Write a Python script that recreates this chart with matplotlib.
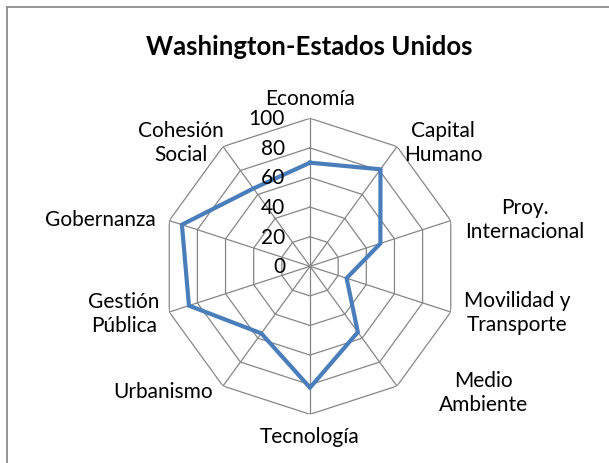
import numpy as np
import matplotlib
matplotlib.use("Agg")
import matplotlib.pyplot as plt
from matplotlib.lines import Line2D

categories = ["Economía", "Capital\nHumano", "Proy.\nInternacional", "Movilidad y\nTransporte",
              "Medio\nAmbiente", "Tecnología", "Urbanismo", "Gestión\nPública", "Gobernanza",
              "Cohesión\nSocial"]
values = [70, 81, 50, 26, 55, 82, 56, 86, 91, 65]
rticks = [0, 20, 40, 60, 80, 100]
title = "Washington-Estados Unidos"

plt.rcParams['font.family'] = ['Lato', 'DejaVu Sans']

W, H = 609, 464
fig = plt.figure(figsize=(W / 100, H / 100), dpi=100)

cx, cy, R = 310, 267.3, 148
ax = fig.add_axes([(cx - R) / W, (H - cy - R) / H, 2 * R / W, 2 * R / H], projection='polar')
ax.set_theta_zero_location('N')
ax.set_theta_direction(-1)
ax.set_ylim(0, 100)
ax.set_xticks([])
ax.set_yticks([])
ax.grid(False)
ax.spines['polar'].set_visible(False)
ax.set_facecolor('none')

n = len(categories)
theta = np.arange(n) * 2 * np.pi / n
grid_col = '#868686'
for r in rticks[1:]:
    ax.plot(np.append(theta, theta[0]), [r] * (n + 1), color=grid_col, lw=0.9, zorder=1)
for t in theta:
    ax.plot([t, t], [0, 100], color=grid_col, lw=0.9, zorder=1)

ax.plot(np.append(theta, theta[0]), values + values[:1], color='#4A7EBB', lw=3.0,
        solid_joinstyle='miter', zorder=3)

# radial tick labels
for r in rticks:
    ax.annotate(str(r), xy=(0, r), xytext=(-18, 0), textcoords='offset points',
                ha='right', va='center', fontsize=15, color='black', zorder=4)

# category labels (polar position in degrees clockwise from north, radius)
label_pos = [(0, 113.7), (46.9, 123), (77.6, 148.7), (102.4, 143.2), (126, 144.5),
             (180, 114.7), (229.7, 130.3), (255.9, 129.6), (282.7, 145.5), (313.9, 121)]
for lab, (a, rr) in zip(categories, label_pos):
    ax.text(np.deg2rad(a), rr, lab, ha='center', va='center', ma='center', fontsize=15,
            linespacing=1.25, clip_on=False)

fig.text(309 / W, 1 - 47 / H, title, ha='center', va='center', fontsize=18.5, fontweight='bold')

# outer frame (top and left visible)
fig.add_artist(Line2D([6.5 / W, 1], [1 - 8 / H, 1 - 8 / H], transform=fig.transFigure,
                      color='#8c8c8c', lw=1.3))
fig.add_artist(Line2D([6.5 / W, 6.5 / W], [0, 1 - 8 / H], transform=fig.transFigure,
                      color='#8c8c8c', lw=1.3))

fig.savefig('out.png', dpi=100)
